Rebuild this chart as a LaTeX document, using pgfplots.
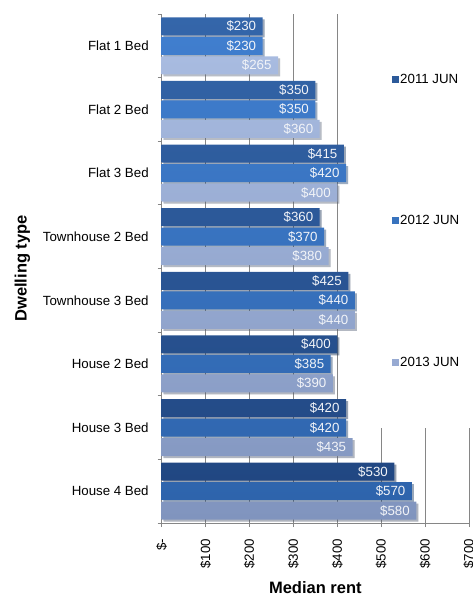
\documentclass[border=0pt]{standalone}
\usepackage{pgfplots}
\pgfplotsset{compat=1.18}
\usepackage{fontspec}
\setmainfont{Liberation Sans}
\usetikzlibrary{shadows}
\definecolor{gridc}{HTML}{868686}
\definecolor{aTop}{HTML}{3466AA}
\definecolor{aBot}{HTML}{214782}
\definecolor{aMid}{HTML}{2C5A9A}
\definecolor{bTop}{HTML}{407ECE}
\definecolor{bBot}{HTML}{2E64AC}
\definecolor{bMid}{HTML}{3873BE}
\definecolor{cTop}{HTML}{A8BBE0}
\definecolor{cBot}{HTML}{8094BE}
\definecolor{cMid}{HTML}{97AAD2}
\definecolor{labc}{HTML}{F2F4F8}
\begin{document}
\begin{tikzpicture}
\path[use as bounding box] (-161.7pt,-74pt) rectangle (311.3pt,523pt);
\begin{axis}[
  at={(0pt,0pt)}, anchor=south west,
  scale only axis, width=307.3pt, height=509pt,
  xbar, bar width=18pt,
  xmin=0, xmax=700, ymin=-0.5, ymax=7.5,
  /pgf/number format/assume math mode=true,
  xtick={0,100,...,700},
  xticklabels={\$-,\$100,\$200,\$300,\$400,\$500,\$600,\$700},
  ytick={-0.5,0.5,...,7.5},
  yticklabels={},
  extra y ticks={0,1,2,3,4,5,6,7},
  extra y tick labels={House 4 Bed,House 3 Bed,House 2 Bed,Townhouse 3 Bed,Townhouse 2 Bed,Flat 3 Bed,Flat 2 Bed,Flat 1 Bed},
  extra y tick style={major tick length=0pt, yticklabel style={xshift=-9.5pt}},
  axis x line*=bottom, axis y line*=left,
  axis line style={gridc, line width=0.75pt, -},
  xmajorgrids, grid style={gridc, line width=0.75pt},
  tick align=outside, major tick length=4pt,
  tick style={gridc, line width=0.75pt},
  ticklabel style={font=\fontsize{13.3}{15}\selectfont, text=black},
  xticklabel style={yshift=-8.5pt, rotate=90, anchor=east},
  xlabel={Median rent},
  ylabel={Dwelling type},
  label style={font=\bfseries\fontsize{16.5}{19}\selectfont},
  xlabel style={at={(axis description cs:0.5,0)}, anchor=base, yshift=-70pt},
  ylabel style={at={(axis description cs:-0.4393,0.5)}, anchor=base},
  nodes near coords={\$\pgfmathprintnumber{\pgfplotspointmeta}},
  every node near coord/.append style={anchor=east, xshift=-3pt, font=\fontsize{13.3}{15}\selectfont, text=labc},
  legend image code/.code={\path (-27pt,0pt) (7pt,0pt); \fill[#1] (0pt,-3.5pt) rectangle (7pt,3.5pt);},
  legend style={at={(axis description cs:0.6616,1)}, anchor=north west, draw=none, fill=white,
    inner xsep=0pt, inner ysep=58pt, row sep=126.6pt, nodes={inner xsep=1pt},
    font=\fontsize{13.3}{15}\selectfont},
  legend cell align=left,
]
\addplot[forget plot, bar shift=19.5pt, draw=none, top color=aTop, bottom color=aBot,
  drop shadow={shadow xshift=2pt, shadow yshift=-2pt, opacity=0.25, fill=black}]
  coordinates {(230,7) (350,6) (415,5) (360,4) (425,3) (400,2) (420,1) (530,0)};
\addplot[forget plot, bar shift=0pt, draw=none, top color=bTop, bottom color=bBot,
  drop shadow={shadow xshift=2pt, shadow yshift=-2pt, opacity=0.25, fill=black}]
  coordinates {(230,7) (350,6) (420,5) (370,4) (440,3) (385,2) (420,1) (570,0)};
\addplot[forget plot, bar shift=-19.5pt, draw=none, top color=cTop, bottom color=cBot,
  drop shadow={shadow xshift=2pt, shadow yshift=-2pt, opacity=0.25, fill=black}]
  coordinates {(265,7) (360,6) (400,5) (380,4) (440,3) (390,2) (435,1) (580,0)};
\addlegendimage{fill=aMid, draw=none}
\addlegendentry{\makebox[70pt][l]{2011 JUN}}
\addlegendimage{fill=bMid, draw=none}
\addlegendentry{\makebox[70pt][l]{2012 JUN}}
\addlegendimage{fill=cMid, draw=none}
\addlegendentry{\makebox[70pt][l]{2013 JUN}}
\end{axis}
\end{tikzpicture}
\end{document}
